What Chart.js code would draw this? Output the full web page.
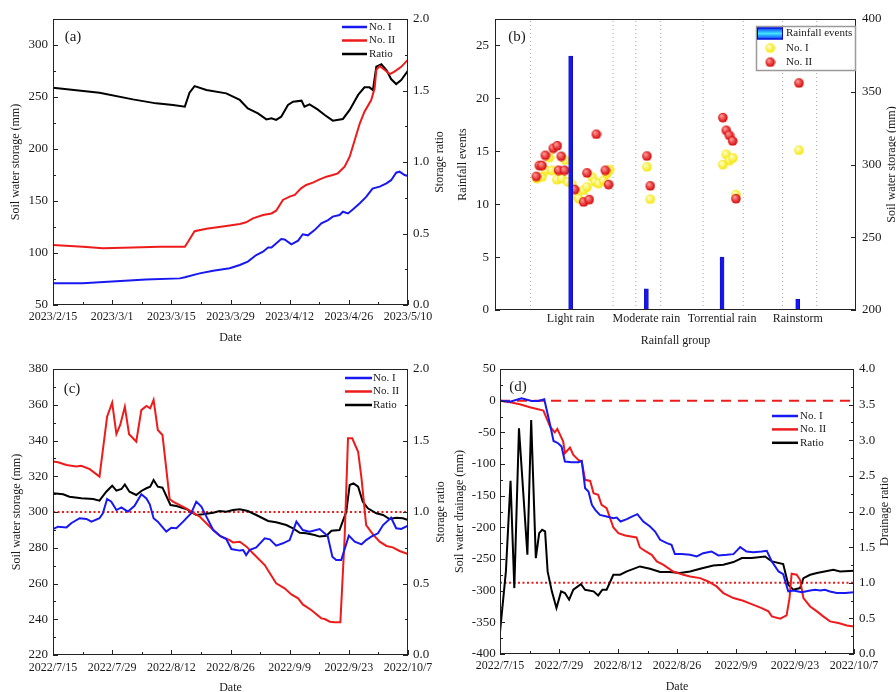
<!DOCTYPE html>
<html>
<head>
<meta charset="utf-8">
<script src="https://cdn.jsdelivr.net/npm/chart.js@4.4.0/dist/chart.umd.min.js"></script>
<style>
  body { margin: 0; background: #fff; width: 896px; height: 692px; position: relative; overflow: hidden; }
  canvas { position: absolute; }
</style>
</head>
<body>
<canvas id="ca" width="448" height="346" style="left:0;top:0"></canvas>
<canvas id="cb" width="448" height="352" style="left:448px;top:0"></canvas>
<canvas id="cc" width="448" height="346" style="left:0;top:346px"></canvas>
<canvas id="cd" width="448" height="346" style="left:448px;top:346px"></canvas>
<script>
/*********************************
 * DATA                          *
 *********************************/

// (a) spring 2023, x = days after 2023/2/15
const aDates = ['2023/2/15', '2023/3/1', '2023/3/15', '2023/3/29', '2023/4/12', '2023/4/26', '2023/5/10'];
const aLeftTicks = [50, 100, 150, 200, 250, 300];
const aRightTicks = [0, 0.5, 1, 1.5, 2];
const aNo1Day = [0, 7, 14, 22, 30, 31.2, 34.7, 37.9, 41.8, 44.2, 46.1, 48.1, 49.7, 50.9, 51.7, 54, 54.8, 56.4, 58, 59.1,
  60.3, 61.9, 63.5, 65.1, 66.2, 67.8, 68.6, 69.8, 71, 72.6, 74.1, 75.6, 77.3, 78.9, 80, 81.2, 82, 83.2, 84];
const aNo1 = [70.8, 70.8, 72.5, 74.5, 75.6, 76.6, 80.4, 83, 85.3, 88.5, 91.7, 98, 101.3, 105.4, 105.4, 113.5, 113, 108.3, 111.9, 118,
  117, 122, 128.5, 131.7, 135, 136.5, 139.7, 138, 142, 147.8, 154, 162, 163.8, 167, 170, 177.2, 178.2, 175, 174];
const aNo2Day = [0, 7.1, 11.8, 18.9, 25.2, 31.2, 32, 33.5, 36.3, 41, 44.2, 45.7, 47.3, 49.7, 51.7, 52.8, 54.4, 56, 57.2, 58.7,
  59.9, 61.5, 63.1, 64.7, 66.2, 67.4, 69, 70.2, 71.4, 72.6, 73.7, 75.3, 76.1, 76.5, 77.3, 78.5, 79.7, 80.8, 82.4, 84];
const aNo2 = [107.7, 106, 104.5, 105.4, 106, 106, 111, 121, 123.4, 126, 127.9, 129.5, 133.3, 136.5, 138, 140.7, 151, 154.2, 155.8, 162.2,
  165.4, 167.6, 170.8, 173.4, 175, 176.6, 183, 192.6, 208.7, 224.7, 235.9, 247, 258.3, 276, 279.8, 276, 272, 274.4, 279, 286];
const aRatioDay = [0, 11, 18.9, 24.4, 28.4, 31.2, 32.3, 33.5, 36.3, 41, 44.2, 46.1, 48.5, 50.5, 51.7, 52.8, 54, 55.6, 56.8,
  58.8, 59.5, 60.7, 62.6, 64.3, 66.2, 68.6, 70.2, 72.2, 73.7, 74.9, 75.7, 76.5, 77.7, 78.9, 80, 81.2, 82.4, 84];
const aRatio = [1.52, 1.485, 1.438, 1.41, 1.399, 1.387, 1.485, 1.531, 1.503, 1.48, 1.434, 1.375, 1.34, 1.298, 1.305, 1.294, 1.317,
  1.399, 1.422, 1.429, 1.387, 1.403, 1.368, 1.329, 1.289, 1.301, 1.364, 1.469, 1.522, 1.522, 1.503, 1.667, 1.683, 1.643,
  1.58, 1.545, 1.573, 1.639];

// (b) rainfall groups
const rainGroups = ['Light rain', 'Moderate rain', 'Torrential rain', 'Rainstorm'];
const rainEvents = [24, 2, 5, 1];
const bLeftTicks = [0, 5, 10, 15, 20, 25];
const bRightTicks = [200, 250, 300, 350, 400];
const groupEdges = [0.47, 1.56, 1.86, 2.19, 2.75, 3.28, 3.8, 4.25];
const bNo1X = [0.551, 0.617, 0.67, 0.714, 0.749, 0.815, 0.881, 0.925, 0.961, 1.014, 1.057, 1.101, 1.167, 1.212, 1.278,
  1.322, 1.365, 1.431, 1.476, 1.507, 2.004, 2.048, 3.007, 3.052, 3.096, 3.14, 3.18, 4.013];
const bNo1 = [290.5, 291.6, 296.2, 305, 296.2, 289.8, 290.5, 303.1, 288.2, 286.6, 279, 276.8, 282.5, 284.7, 291.6,
  288.2, 287.1, 289.3, 294, 296.7, 298.5, 276.3, 300.1, 307.2, 303, 304.7, 279.5, 310];
const bNo2X = [0.542, 0.582, 0.617, 0.661, 0.766, 0.819, 0.837, 0.872, 0.916, 1.048, 1.167, 1.212, 1.242, 1.335, 1.454,
  1.497, 2.004, 2.048, 3.007, 3.052, 3.092, 3.136, 3.18, 4.013];
const bNo2 = [292, 299.5, 299.5, 306.5, 311.3, 313.1, 296.2, 305.8, 296.2, 283, 274.4, 294.4, 276.1, 321, 296.2,
  286.4, 306, 285.5, 332.4, 323.7, 320.3, 316.4, 276.7, 356.2];

// (c) and (d) summer 2022, x = days after 2022/7/15
const cDates = ['2022/7/15', '2022/7/29', '2022/8/12', '2022/8/26', '2022/9/9', '2022/9/23', '2022/10/7'];
const cLeftTicks = [220, 240, 260, 280, 300, 320, 340, 360, 380];
const cRightTicks = [0, 0.5, 1, 1.5, 2];
const cNo1Day = [0, 1.2, 3.2, 4.3, 6.3, 7.9, 9.1, 11, 11.8, 12.8, 13.8, 15, 16.2, 17.7, 19.3, 20.9, 22.1, 22.9, 23.8, 24.8,
  26.8, 28, 29.2, 30.8, 32.7, 33.9, 35.1, 36.3, 37.9, 39.8, 41, 42.2, 44.2, 45, 45.7, 46.5, 48.1, 50.1, 51.3, 52.8,
  54.4, 56, 57.6, 59.1, 60.7, 63.1, 65, 66.1, 67, 68.2, 70, 71.4, 73, 74.1, 75.3, 76.9, 78.1, 80, 81.2, 82.4, 84];
const cNo1 = [290.5, 291.8, 291.4, 293.7, 296.5, 296.1, 294.6, 296.5, 299.3, 307.3, 305.8, 301.1, 302.6, 300.2, 303.5, 309.9,
  307.6, 304.3, 296.5, 294.6, 289, 291.2, 290.9, 294.6, 299.3, 305.8, 303, 297.4, 289.9, 286.2, 284.9, 279.3, 278.4,
  278.7, 275.9, 278.7, 280.2, 285.3, 284.7, 281.2, 282.5, 284.3, 294.6, 289.9, 289, 290.5, 286.6, 275, 273.1, 273.1,
  286.8, 283.4, 281.9, 284.3, 286.2, 288.1, 292.7, 296.8, 290.9, 290.5, 292.4];
const cNo2Day = [0, 1.2, 3.2, 5.5, 6.7, 8.7, 11, 12.8, 14, 15, 15.9, 17, 18, 19.7, 20.9, 22.1, 23, 23.8, 24.8, 25.9,
  27.6, 28.4, 31.5, 34.7, 37.1, 39.4, 41.8, 42.6, 44.2, 45.8, 47.3, 50.1, 52.8, 54.8, 56.4, 58, 59.1, 61.1, 63.5, 64.3,
  65.5, 66.6, 68, 69, 69.8, 70.8, 72.2, 73, 74.1, 75.7, 77.3, 78.9, 80.4, 82, 84];
const cNo2 = [328.2, 327.8, 326.3, 325.4, 325.9, 324, 319.8, 353.3, 361.2, 343.6, 348.7, 358.9, 343.5, 339.4, 357, 359.3,
  358, 362.7, 345.9, 343.1, 307.3, 305.8, 302, 297.4, 291.8, 286.8, 284.3, 283, 283.4, 280.6, 276.9, 270.3, 260.1,
  257.3, 253.9, 251.7, 248.3, 245.2, 240.5, 240.1, 238.6, 238.3, 238.3, 285.3, 341.2, 341.2, 333.7, 318.8, 292.7,
  287.5, 283.4, 281, 280.2, 278.2, 276.5];
const cRatioDay = [0, 2.4, 3.9, 6.7, 9.5, 11, 12.6, 14, 15, 16.2, 17, 18.1, 19.7, 20.9, 22.1, 23, 23.8, 24.8, 25.9, 27.8,
  29.2, 31.5, 33.9, 35.5, 37.9, 39.4, 41, 42.6, 44.2, 46.1, 48.1, 50.9, 52.8, 55.2, 56.8, 58.4, 59.9, 61.9, 63.1, 64.7,
  65.9, 67.8, 69.4, 70.2, 71.1, 72.2, 73.3, 74.5, 76.5, 78.1, 79.6, 81.2, 82.8, 84];
const cRatio = [1.131, 1.124, 1.107, 1.096, 1.091, 1.079, 1.142, 1.184, 1.149, 1.161, 1.193, 1.142, 1.119, 1.147, 1.166,
  1.177, 1.224, 1.177, 1.17, 1.049, 1.042, 1.021, 0.979, 0.984, 0.995, 1.007, 1.002, 1.014, 1.019, 1.007, 0.979, 0.937,
  0.928, 0.909, 0.886, 0.855, 0.851, 0.839, 0.828, 0.834, 0.869, 0.874, 1.002, 1.189, 1.2, 1.177, 1.072, 1.026, 0.991,
  0.979, 0.951, 0.96, 0.956, 0.944];
const cLimit = [300, 300];

const dLeftTicks = [-400, -350, -300, -250, -200, -150, -100, -50, 0, 50];
const dRightTicks = [0, 0.5, 1, 1.5, 2, 2.5, 3, 3.5, 4];
const dNo1Day = [0, 2.4, 5.1, 7.5, 9.1, 10.5, 11.9, 12.7, 13.8, 14.6, 15.4, 17, 18.6, 19.4, 20.2, 21, 21.8, 22.6, 23.7, 25.3,
  26.9, 27.7, 28.6, 30.1, 31.3, 32.6, 34, 35.6, 36.8, 38, 39.6, 40.7, 41.5, 43.1, 45.1, 46.7, 48.2, 50.2, 51.8, 53.8,
  55.4, 57, 58.5, 60.1, 62.1, 63.3, 64.5, 66.1, 67.2, 68.4, 69.6, 71.6, 73.6, 74.8, 76, 77.1, 78.3, 79.9, 81.9, 84];
const dNo1 = [0, -1.5, 3.7, -0.5, -0.5, 2.1, -38.3, -63.6, -67.2, -72.5, -96.2, -97.2, -97.2, -95.1, -138.2, -143.5, -164.5,
  -172.4, -180.3, -183, -185.5, -184.5, -190.8, -187.1, -183, -179.2, -190.8, -198.7, -206.6, -219.7, -225, -227.6,
  -242.3, -242.3, -243.4, -246, -240.8, -238.1, -244.4, -243.4, -242.3, -231.3, -238.1, -239.2, -238.1, -237.1, -253.9,
  -269.7, -273.9, -301.2, -299.6, -302.3, -299.6, -298.6, -299.6, -298.6, -301.2, -303.8, -303.8, -302.3];
const dNo2Day = [0, 2.4, 4.7, 7.1, 10.3, 11.9, 13, 13.6, 15, 15.4, 16.6, 17.4, 18.6, 19.4, 20.2, 21.4, 22.2, 23.3, 24.1, 25.3,
  26.9, 28.1, 29.7, 32.4, 33.2, 34.4, 36, 37.2, 38.8, 41.1, 43.5, 45.1, 47.5, 49.4, 51.4, 53, 55.4, 57.7, 59.7, 62.1,
  63.7, 64.5, 66.5, 68, 68.7, 69.2, 70.4, 71.2, 72, 73.6, 75.2, 76.7, 78.3, 80.3, 82.3, 84];
const dNo2 = [0, -2.6, -5.7, -10.5, -15.7, -41, -49.9, -44.6, -64.6, -83, -74.1, -85.6, -93.5, -96.2, -125, -126.7, -146.1,
  -148.7, -164.5, -169.8, -200.3, -209.2, -212.9, -216, -231.8, -237.1, -243.4, -253.9, -259.2, -269.7, -275, -277.6,
  -280.2, -285.5, -293.3, -303.8, -311.7, -315.9, -321.2, -327.5, -332.7, -340.6, -344.3, -339.1, -311.7, -273.3,
  -274.9, -282.8, -311.7, -324.9, -332.7, -340.6, -348.5, -351.2, -354.9, -356.4];
const dRatioDay = [0, 1.4, 2.5, 3.4, 4.5, 6.5, 7.4, 8.5, 9.3, 10, 10.7, 11.3, 12.3, 13.4, 14.5, 15.4, 16.4, 17.4, 19.2, 20.2,
  22.2, 23.3, 24.3, 25.3, 26.9, 28.5, 30.1, 33.2, 35.6, 38, 40.3, 42.7, 45.1, 47.5, 50.6, 53, 55.4, 57.4, 59.7, 62.9,
  64.5, 67.2, 68.4, 69.6, 71.2, 72, 73.6, 75.2, 79.1, 80.7, 84];
const dRatio = [0.308, 1.159, 2.43, 0.925, 3.168, 1.393, 3.285, 1.346, 1.696, 1.743, 1.72, 1.159, 0.879, 0.645, 0.879, 0.855,
  0.762, 0.902, 0.981, 0.902, 0.879, 0.822, 0.902, 0.902, 1.112, 1.112, 1.159, 1.229, 1.196, 1.15, 1.15, 1.136, 1.159,
  1.196, 1.243, 1.252, 1.29, 1.346, 1.346, 1.369, 1.299, 1.262, 0.972, 0.902, 0.925, 1.065, 1.112, 1.136, 1.182,
  1.159, 1.168];
const dZero = [0, 0];
const dRatioOne = [1, 1];

/*********************************
 * HELPERS                       *
 *********************************/
const FONT = '"Liberation Serif", "Times New Roman", serif';
const INK = '#1a1a1a';
const BLUE = '#1818f0';
const RED = '#ee1b1b';
const BLACK = '#000000';

const pts = (xs, ys) => xs.map((x, i) => ({ x: x, y: ys[i] }));

function series(label, xs, ys, color, axis, extra) {
  return Object.assign({
    label: label, data: pts(xs, ys), borderColor: color, backgroundColor: color,
    borderWidth: 2, pointRadius: 0, yAxisID: axis, tension: 0
  }, extra || {});
}

// shaded ball used as point style in (b)
function ball(light, dark, r) {
  const cv = document.createElement('canvas');
  const s = r * 2 + 2;
  cv.width = cv.height = s;
  const g = cv.getContext('2d');
  const grd = g.createRadialGradient(s / 2 - r * 0.35, s / 2 - r * 0.4, r * 0.1, s / 2, s / 2, r);
  grd.addColorStop(0, light);
  grd.addColorStop(1, dark);
  g.fillStyle = grd;
  g.beginPath();
  g.arc(s / 2, s / 2, r, 0, Math.PI * 2);
  g.fill();
  return cv;
}
const yellowBall = ball('#ffffd0', '#f5e600', 4.8);
const redBall = ball('#ff9a9a', '#d60000', 4.8);

// frame box + inward major/minor ticks
const frame = {
  id: 'frame',
  afterDraw(chart, args, o) {
    const ctx = chart.ctx, a = chart.chartArea;
    ctx.save();
    ctx.strokeStyle = '#222';
    ctx.lineWidth = 1;
    ctx.strokeRect(Math.round(a.left) + 0.5, Math.round(a.top) + 0.5,
      Math.round(a.right - a.left) - 1, Math.round(a.bottom - a.top) - 1);
    (o.ids || []).forEach(id => {
      const s = chart.scales[id];
      const ps = s.ticks.map((t, i) => s.getPixelForTick(i));
      const mids = o.minor ? ps.slice(1).map((p, i) => (p + ps[i]) / 2) : [];
      const tick = (p, len) => {
        p = Math.round(p) + 0.5;
        ctx.beginPath();
        if (s.position === 'bottom') { ctx.moveTo(p, a.bottom); ctx.lineTo(p, a.bottom - len); }
        else if (s.position === 'left') { ctx.moveTo(a.left, p); ctx.lineTo(a.left + len, p); }
        else { ctx.moveTo(a.right, p); ctx.lineTo(a.right - len, p); }
        ctx.stroke();
      };
      ps.forEach(p => tick(p, 5));
      mids.forEach(p => tick(p, 3));
    });
    ctx.restore();
  }
};

// panel tag, right axis title, legend
const deco = {
  id: 'deco',
  afterDraw(chart, args, o) {
    const ctx = chart.ctx, a = chart.chartArea;
    ctx.save();
    ctx.fillStyle = INK;
    ctx.textBaseline = 'middle';
    ctx.textAlign = 'center';
    ctx.font = '15px ' + FONT;
    ctx.fillText(o.tag, o.tagX, o.tagY);

    ctx.font = '12px ' + FONT;
    ctx.save();
    ctx.translate(o.rtX, (a.top + a.bottom) / 2);
    ctx.rotate(-Math.PI / 2);
    ctx.fillText(o.rt, 0, 0);
    ctx.restore();

    if (o.box) {
      ctx.fillStyle = '#fff';
      ctx.fillRect(o.box[0], o.box[1], o.box[2], o.box[3]);
      ctx.strokeStyle = '#9a9a9a';
      ctx.lineWidth = 1.5;
      ctx.strokeRect(o.box[0], o.box[1], o.box[2], o.box[3]);
    }
    ctx.textAlign = 'left';
    ctx.font = '11px ' + FONT;
    o.items.forEach((it, i) => {
      const ds = chart.data.datasets[it];
      const y = o.ly + i * o.dy;
      if (ds.type === 'bar') {
        const grd = ctx.createLinearGradient(0, y - 6, 0, y + 6);
        grd.addColorStop(0, '#0a2cff');
        grd.addColorStop(0.5, '#3fe6ff');
        grd.addColorStop(1, '#0a2cff');
        ctx.fillStyle = grd;
        ctx.fillRect(o.lx, y - 6, o.len, 12);
        ctx.strokeStyle = '#0000c0';
        ctx.lineWidth = 1;
        ctx.strokeRect(o.lx + 0.5, y - 6 + 0.5, o.len - 1, 11);
      } else if (ds.pointStyle instanceof HTMLCanvasElement) {
        const img = ds.pointStyle;
        ctx.drawImage(img, o.lx + o.len / 2 - img.width / 2, y - img.height / 2);
      } else {
        ctx.strokeStyle = ds.borderColor;
        ctx.lineWidth = 2.5;
        ctx.beginPath();
        ctx.moveTo(o.lx, y);
        ctx.lineTo(o.lx + o.len, y);
        ctx.stroke();
      }
      ctx.fillStyle = INK;
      ctx.fillText(ds.label, o.tx, y);
    });
    ctx.restore();
  }
};

function yAxis(pos, min, max, ticks, fmt, width, pad, title, titlePad) {
  return {
    type: 'linear', position: pos, min: min, max: max, offset: false,
    grid: { display: false, drawTicks: false }, border: { display: false },
    afterBuildTicks: s => { s.ticks = ticks.map(v => ({ value: v })); },
    ticks: { callback: fmt, font: { family: FONT, size: 13 }, color: INK, padding: pad },
    title: { display: !!title, text: title, font: { family: FONT, size: 12 }, color: INK, padding: { top: titlePad, bottom: 0 } },
    afterFit: s => { s.width = width; }
  };
}

function dateAxis(dates, height, pad, titlePad) {
  return {
    type: 'linear', position: 'bottom', min: 0, max: 84, offset: false,
    grid: { display: false, drawTicks: false }, border: { display: false },
    afterBuildTicks: s => { s.ticks = dates.map((d, i) => ({ value: i * 14 })); },
    ticks: { callback: (v, i) => dates[i], font: { family: FONT, size: 12 }, color: INK, padding: pad, maxRotation: 0, autoSkip: false },
    title: { display: true, text: 'Date', font: { family: FONT, size: 12 }, color: INK, padding: { top: 0, bottom: titlePad } },
    afterFit: s => { s.height = height; }
  };
}

function timeChart(id, top, datasets, scales, decoOpts) {
  return new Chart(document.getElementById(id), {
    type: 'line',
    data: { datasets: datasets },
    options: {
      responsive: false, animation: false, events: [],
      layout: { padding: { top: top, left: 0, right: 0, bottom: 0 } },
      plugins: { legend: { display: false }, tooltip: { enabled: false },
        frame: { ids: ['x', 'yL', 'yR'], minor: true }, deco: decoOpts },
      scales: scales
    },
    plugins: [frame, deco]
  });
}

const one = v => v.toFixed(1);
const int = v => String(v);

/*********************************
 * CHARTS                        *
 *********************************/

// (a)
timeChart('ca', 19, [
  series('No. I', aNo1Day, aNo1, BLUE, 'yL'),
  series('No. II', aNo2Day, aNo2, RED, 'yL'),
  series('Ratio', aRatioDay, aRatio, BLACK, 'yR')
], {
  x: dateAxis(aDates, 41, 4.8, 0.8),
  yL: yAxis('left', 50, 325, aLeftTicks, int, 53, 5, 'Soil water storage (mm)', 8.8),
  yR: yAxis('right', 0, 2, aRightTicks, one, 40, 5, '', 0)
}, { tag: '(a)', tagX: 73, tagY: 37, rt: 'Storage ratio', rtX: 440,
  items: [0, 1, 2], lx: 342, len: 25, tx: 369, ly: 27, dy: 13.5 });

// (b)
new Chart(document.getElementById('cb'), {
  type: 'scatter',
  data: {
    datasets: [
      { type: 'bar', label: 'Rainfall events', data: pts(rainGroups.map((g, i) => i + 1), rainEvents),
        backgroundColor: '#1616f2', borderColor: '#0808b0', borderWidth: 0.6, barThickness: 4, yAxisID: 'yL', order: 0 },
      { type: 'scatter', label: 'No. I', data: pts(bNo1X, bNo1), pointStyle: yellowBall, pointRadius: 5,
        yAxisID: 'yR', order: 2 },
      { type: 'scatter', label: 'No. II', data: pts(bNo2X, bNo2), pointStyle: redBall, pointRadius: 5,
        yAxisID: 'yR', order: 1 }
    ].concat(groupEdges.map(x => ({
      type: 'line', label: '', data: [{ x: x, y: 0 }, { x: x, y: 27.5 }], borderColor: '#a8a8a8',
      borderWidth: 1, borderDash: [1, 3], pointRadius: 0, yAxisID: 'yL', order: 5
    })))
  },
  options: {
    responsive: false, animation: false, events: [],
    layout: { padding: { top: 19, left: 0, right: 0, bottom: 0 } },
    plugins: { legend: { display: false }, tooltip: { enabled: false },
      frame: { ids: ['yL', 'yR'], minor: false },
      deco: { tag: '(b)', tagX: 69, tagY: 37, rt: 'Soil water storage (mm)', rtX: 443.5,
        box: [308.5, 26.5, 99, 44], items: [0, 1, 2], lx: 309, len: 26, tx: 338, ly: 33.5, dy: 14.2 } },
    scales: {
      x: {
        type: 'linear', position: 'bottom', min: 0, max: 4.77, offset: false,
        grid: { display: false, drawTicks: false, offset: false }, border: { display: false },
        afterBuildTicks: s => { s.ticks = rainGroups.map((g, i) => ({ value: i + 1 })); },
        ticks: { callback: (v, i) => rainGroups[i], font: { family: FONT, size: 12 }, color: INK, padding: 2, maxRotation: 0, autoSkip: false },
        title: { display: true, text: 'Rainfall group', font: { family: FONT, size: 12 }, color: INK, padding: { top: 0, bottom: 4 } },
        afterFit: s => { s.height = 42; }
      },
      yL: yAxis('left', 0, 27.5, bLeftTicks, int, 47, 6, 'Rainfall events', 7.8),
      yR: yAxis('right', 200, 400, bRightTicks, int, 40, 6, '', 0)
    }
  },
  plugins: [frame, deco]
});

// (c)
timeChart('cc', 23, [
  series('No. I', cNo1Day, cNo1, BLUE, 'yL'),
  series('No. II', cNo2Day, cNo2, RED, 'yL'),
  series('Ratio', cRatioDay, cRatio, BLACK, 'yR'),
  series('', [0, 84], cLimit, RED, 'yL', { borderDash: [2, 2.5] })
], {
  x: dateAxis(cDates, 37, 5.5, -2.9),
  yL: yAxis('left', 220, 380, cLeftTicks, int, 53, 5, 'Soil water storage (mm)', 9.5),
  yR: yAxis('right', 0, 2, cRightTicks, one, 40, 5, '', 0)
}, { tag: '(c)', tagX: 72, tagY: 43, rt: 'Storage ratio', rtX: 440.5,
  items: [0, 1, 2], lx: 345, len: 27, tx: 373, ly: 32, dy: 13.5 });

// (d)
timeChart('cd', 23, [
  series('No. I', dNo1Day, dNo1, BLUE, 'yL'),
  series('No. II', dNo2Day, dNo2, RED, 'yL'),
  series('Ratio', dRatioDay, dRatio, BLACK, 'yR'),
  series('', [0, 84], dZero, RED, 'yL', { borderDash: [10, 7] }),
  series('', [0, 84], dRatioOne, RED, 'yR', { borderDash: [2, 2.5] })
], {
  x: dateAxis(cDates, 38, 4.5, -2.5),
  yL: yAxis('left', -400, 50, dLeftTicks, int, 52, 4.3, 'Soil water drainage (mm)', 4.8),
  yR: yAxis('right', 0, 4, dRightTicks, one, 42, 5, '', 0)
}, { tag: '(d)', tagX: 70, tagY: 41, rt: 'Drainage ratio', rtX: 437,
  items: [0, 1, 2], lx: 324, len: 26, tx: 352, ly: 70, dy: 13.4 });
</script>
</body>
</html>
